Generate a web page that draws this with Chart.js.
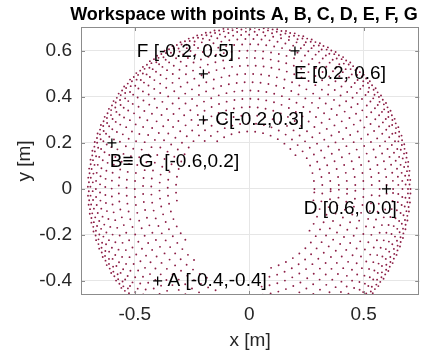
<!DOCTYPE html>
<html>
<head>
<meta charset="utf-8">
<script src="https://cdn.jsdelivr.net/npm/chart.js@4.4.1/dist/chart.umd.min.js"></script>
<style>
  html, body { margin: 0; padding: 0; background: #ffffff; }
  #wrap { width: 425px; height: 352px; }
</style>
</head>
<body>
<div id="wrap"><canvas id="c" width="425" height="352"></canvas></div>
<script>
// Sampled workspace: one ring of end-effector positions per radius [m],
// angular sampling step per ring [deg] and the unreachable arc on that ring [deg].
const ringRadius  = [0.705, 0.701, 0.694, 0.684, 0.670, 0.652, 0.629, 0.601, 0.570, 0.536, 0.500, 0.464, 0.428, 0.392, 0.356, 0.320, 0.285, 0.250];
const ringStepDeg = [3.2, 3.2, 3.2, 3.2, 3.0, 3.1, 3.2, 3.3, 3.5, 3.7, 4.0, 4.3, 4.7, 5.1, 5.6, 6.2, 7.0, 8.0];
const ringGapFrom = [null, null, null, null, null, null, null, null, 260, 258, 255, 252, 247, 236, 222, 190, 135, 125];
const ringGapTo   = [null, null, null, null, null, null, null, null, 276, 277, 277, 277, 277, 279, 284, 325, 345, 395];

// Target points (G coincides with B)
const pointX = [-0.4, -0.6, -0.2, 0.6, 0.2, -0.2];
const pointY = [-0.4, 0.2, 0.3, 0.0, 0.6, 0.5];
const pointLabels = ['A [-0.4,-0.4]', 'B\u2261 G  [-0.6,0.2]', 'C[-0.2,0.3]', 'D [0.6, 0.0]', 'E [0.2, 0.6]', 'F [-0.2, 0.5]'];

// Axis ticks
const xTicks = [-0.5, 0, 0.5];
const xTickLabels = ['-0.5', '0', '0.5'];
const yTicks = [-0.4, -0.2, 0, 0.2, 0.4, 0.6];
const yTickLabels = ['-0.4', '-0.2', '0', '0.2', '0.4', '0.6'];

const chartTitle = 'Workspace with points A, B, C, D, E, F, G';
const xTitle = 'x [m]';
const yTitle = 'y [m]';

// Where each label's left edge / vertical middle sits, in axis units
const labelAnchor = [[-0.357, -0.40], [-0.609, 0.117], [-0.148, 0.30], [0.239, -0.087], [0.196, 0.50], [-0.491, 0.596]];

const FONT = '"Liberation Sans", Arial, Helvetica, sans-serif';

function inGap(a, from, to) {
  if (from === null) return false;
  return (a >= from && a <= to) || (a + 360 >= from && a + 360 <= to);
}

const workspace = [];
ringRadius.forEach((r, i) => {
  const step = ringStepDeg[i];
  const phase = (i % 2) * step / 2;
  for (let a = phase; a < 360 - 1e-9; a += step) {
    if (inGap(a, ringGapFrom[i], ringGapTo[i])) continue;
    const t = a * Math.PI / 180;
    workspace.push({ x: r * Math.cos(t), y: r * Math.sin(t) });
  }
});

const targets = pointX.map((x, i) => ({ x: x, y: pointY[i] }));

const decor = {
  id: 'decor',
  afterDatasetsDraw(chart) {
    const { ctx, chartArea: ca, scales } = chart;
    const sx = scales.x, sy = scales.y;
    ctx.save();
    // axes box
    ctx.strokeStyle = '#8c8c8c';
    ctx.lineWidth = 1;
    ctx.strokeRect(Math.round(ca.left) + 0.5, Math.round(ca.top) + 0.5,
                   Math.round(ca.right - ca.left) - 1, Math.round(ca.bottom - ca.top) - 1);
    // inward tick marks
    ctx.beginPath();
    xTicks.forEach(v => {
      const px = Math.round(sx.getPixelForValue(v)) + 0.5;
      ctx.moveTo(px, ca.bottom); ctx.lineTo(px, ca.bottom - 4);
      ctx.moveTo(px, ca.top); ctx.lineTo(px, ca.top + 4);
    });
    yTicks.forEach(v => {
      const py = Math.round(sy.getPixelForValue(v)) + 0.5;
      ctx.moveTo(ca.left, py); ctx.lineTo(ca.left + 4, py);
      ctx.moveTo(ca.right, py); ctx.lineTo(ca.right - 4, py);
    });
    ctx.stroke();

    // point labels
    ctx.fillStyle = '#000000';
    ctx.font = '19px ' + FONT;
    ctx.textAlign = 'left';
    ctx.textBaseline = 'middle';
    pointLabels.forEach((txt, i) => {
      ctx.fillText(txt, sx.getPixelForValue(labelAnchor[i][0]), sy.getPixelForValue(labelAnchor[i][1]));
    });

    // title and axis titles
    ctx.font = 'bold 18px ' + FONT;
    ctx.textAlign = 'center';
    ctx.fillText(chartTitle, 244, 15);
    ctx.fillStyle = '#262626';
    ctx.font = '19px ' + FONT;
    ctx.fillText(xTitle, (ca.left + ca.right) / 2, 341);
    ctx.save();
    ctx.translate(25, (ca.top + ca.bottom) / 2);
    ctx.rotate(-Math.PI / 2);
    ctx.fillText(yTitle, 0, 0);
    ctx.restore();
    ctx.restore();
  }
};

new Chart(document.getElementById('c'), {
  type: 'scatter',
  data: {
    datasets: [
      {
        label: 'workspace',
        data: workspace,
        pointRadius: 0.95,
        pointHoverRadius: 0,
        pointBorderWidth: 0,
        pointBackgroundColor: 'rgb(140, 30, 70)',
        order: 2
      },
      {
        label: 'points',
        data: targets,
        pointStyle: 'cross',
        pointRadius: 4.5,
        pointHoverRadius: 4.5,
        pointBorderColor: '#000000',
        pointBorderWidth: 1.3,
        order: 1
      }
    ]
  },
  options: {
    responsive: false,
    animation: false,
    events: [],
    layout: { padding: { left: 0, right: 4, top: 27, bottom: 0 } },
    plugins: {
      legend: { display: false },
      tooltip: { enabled: false },
      title: { display: false }
    },
    scales: {
      x: {
        type: 'linear',
        min: -0.735,
        max: 0.743,
        afterBuildTicks: s => { s.ticks = xTicks.map(v => ({ value: v })); },
        afterFit: s => { s.height = 57; },
        ticks: {
          font: { family: FONT, size: 19 },
          color: '#262626',
          padding: 8,
          maxRotation: 0,
          callback: v => xTickLabels[xTicks.indexOf(v)]
        },
        grid: { color: '#e6e6e6', drawTicks: false },
        border: { display: false }
      },
      y: {
        type: 'linear',
        min: -0.461,
        max: 0.704,
        afterBuildTicks: s => { s.ticks = yTicks.map(v => ({ value: v })); },
        afterFit: s => { s.width = 81; },
        ticks: {
          font: { family: FONT, size: 19 },
          color: '#262626',
          padding: 9,
          callback: v => yTickLabels[yTicks.indexOf(v)]
        },
        grid: { color: '#e6e6e6', drawTicks: false },
        border: { display: false }
      }
    }
  },
  plugins: [decor]
});
</script>
</body>
</html>
